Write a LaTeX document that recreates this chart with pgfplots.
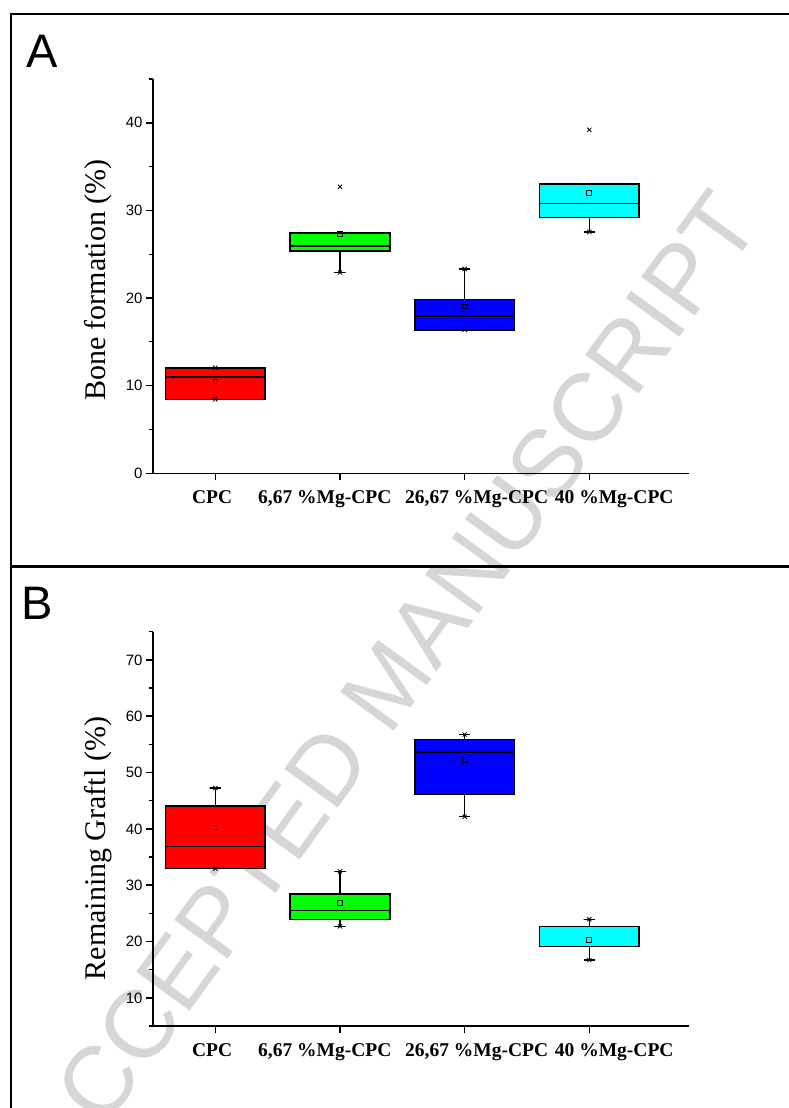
\documentclass[border=0pt]{standalone}
\usepackage{fontspec}
\setmainfont{Liberation Serif}
\newfontfamily\arial{Liberation Sans}
\usepackage{pgfplots}
\pgfplotsset{compat=1.18}

\definecolor{bred}{RGB}{255,0,0}
\definecolor{bgreen}{RGB}{0,255,0}
\definecolor{bblue}{RGB}{0,0,255}
\definecolor{bcyan}{RGB}{0,255,255}

\pgfplotsset{
  panel/.style={
    scale only axis, width=536pt, height=394.3pt,
    xmin=0.5, xmax=4.8,
    clip=false,
    axis x line*=bottom, axis y line*=left,
    axis line style={line width=1.5pt},
    tick align=outside,
    major tick style={line width=1.5pt, black},
    minor tick style={line width=1.2pt, black},
    major tick length=7pt, minor tick length=4pt,
    xtick={1,2,3,4}, xticklabels={},
    extra x ticks={0.974,1.878,3.097,4.2},
    extra x tick labels={CPC,{6,67\hspace{0.25em}\%Mg-CPC},{26,67\hspace{0.25em}\%Mg-CPC},{40\hspace{0.25em}\%Mg-CPC}},
    extra x tick style={major tick style={draw=none}},
    xticklabel style={font=\fontsize{19.5}{22}\selectfont\bfseries, yshift=-7pt},
    yticklabel style={font=\arial\fontsize{15}{18}\selectfont},
    /pgf/number format/assume math mode=true,
    ylabel style={font=\fontsize{30}{34}\selectfont, at={(axis description cs:-0.0877,0.49)}, anchor=base},
  },
  bx/.style={line width=1.5pt, draw=black, solid, mark=none, line join=miter},
  wh/.style={line width=1.5pt, black, solid, mark=none},
  xm/.style={only marks, mark=x, mark size=3pt, line width=0.8pt, black},
  mn/.style={only marks, mark=square, mark size=2.4pt, line width=0.8pt, black},
}

\begin{document}
\begin{tikzpicture}
\useasboundingbox (0,0) rectangle (789pt,-1108pt);
\fill[white] (0,0) rectangle (789pt,-1108pt);
% watermark
\node[rotate=54, text=black!16, font=\arial\fontsize{96}{100}\selectfont] at (388pt,-683pt) {ACCEPTED MANUSCRIPT};

% ---------------- Panel A
\begin{axis}[panel, at={(153pt,-473.3pt)}, anchor=south west,
  ymin=0, ymax=45, ytick={0,10,20,30,40}, minor ytick={5,15,25,35,45},
  ylabel={Bone formation (\%)}]
% whiskers with caps
\addplot[wh] coordinates {(0.955,8.44) (1.045,8.44) (1,8.44) (1,12.04) (0.955,12.04) (1.045,12.04)};
\addplot[wh] coordinates {(1.955,22.9) (2.045,22.9) (2,22.9) (2,27.4) (1.955,27.4) (2.045,27.4)};
\addplot[wh] coordinates {(2.955,16.38) (3.045,16.38) (3,16.38) (3,23.33) (2.955,23.33) (3.045,23.33)};
\addplot[wh] coordinates {(3.955,27.55) (4.045,27.55) (4,27.55) (4,33.02) (3.955,33.02) (4.045,33.02)};
% boxes (lower quartile, upper quartile)
\addplot[bx, fill=bred]   coordinates {(0.6,8.44) (1.4,8.44) (1.4,12.04) (0.6,12.04)} --cycle;
\addplot[bx, fill=bgreen] coordinates {(1.6,25.35) (2.4,25.35) (2.4,27.4) (1.6,27.4)} --cycle;
\addplot[bx, fill=bblue]  coordinates {(2.6,16.38) (3.4,16.38) (3.4,19.84) (2.6,19.84)} --cycle;
\addplot[bx, fill=bcyan]  coordinates {(3.6,29.19) (4.4,29.19) (4.4,33.02) (3.6,33.02)} --cycle;
% medians
\addplot[bx] coordinates {(0.6,11.0) (1.4,11.0)};
\addplot[bx] coordinates {(1.6,25.95) (2.4,25.95)};
\addplot[bx] coordinates {(2.6,17.94) (3.4,17.94)};
\addplot[bx] coordinates {(3.6,30.79) (4.4,30.79)};
% min / max and means
\addplot[xm] coordinates {(1,8.44) (1,12.04) (2,22.9) (2,32.7) (3,16.38) (3,23.33) (4,27.55) (4,39.2)};
\addplot[mn] coordinates {(1,10.5) (2,27.3) (3,19.04) (4,31.96)};
\end{axis}

% ---------------- Panel B
\begin{axis}[panel, at={(153pt,-1026pt)}, anchor=south west,
  ymin=5, ymax=75, ytick={10,20,30,40,50,60,70}, minor ytick={5,15,25,35,45,55,65,75},
  ylabel={Remaining Graftl (\%)},
  ylabel style={at={(axis description cs:-0.0877,0.45)}}]
\addplot[wh] coordinates {(0.955,32.94) (1.045,32.94) (1,32.94) (1,47.24) (0.955,47.24) (1.045,47.24)};
\addplot[wh] coordinates {(1.955,22.7) (2.045,22.7) (2,22.7) (2,32.46) (1.955,32.46) (2.045,32.46)};
\addplot[wh] coordinates {(2.955,42.16) (3.045,42.16) (3,42.16) (3,56.76) (2.955,56.76) (3.045,56.76)};
\addplot[wh] coordinates {(3.955,16.7) (4.045,16.7) (4,16.7) (4,23.95) (3.955,23.95) (4.045,23.95)};
\addplot[bx, fill=bred]   coordinates {(0.6,32.94) (1.4,32.94) (1.4,44.1) (0.6,44.1)} --cycle;
\addplot[bx, fill=bgreen] coordinates {(1.6,23.9) (2.4,23.9) (2.4,28.4) (1.6,28.4)} --cycle;
\addplot[bx, fill=bblue]  coordinates {(2.6,46.06) (3.4,46.06) (3.4,55.87) (2.6,55.87)} --cycle;
\addplot[bx, fill=bcyan]  coordinates {(3.6,19.1) (4.4,19.1) (4.4,22.7) (3.6,22.7)} --cycle;
\addplot[bx] coordinates {(0.6,36.84) (1.4,36.84)};
\addplot[bx] coordinates {(1.6,25.55) (2.4,25.55)};
\addplot[bx] coordinates {(2.6,53.62) (3.4,53.62)};
\addplot[bx] coordinates {(3.6,19.1) (4.4,19.1)};
\addplot[xm] coordinates {(1,32.94) (1,47.24) (2,22.7) (2,32.46) (3,42.16) (3,56.76) (4,16.7) (4,23.95)};
\addplot[mn] coordinates {(1,40.27) (2,26.85) (3,52.2) (4,20.35)};
\end{axis}

% frames and panel letters
\draw[line width=2.5pt] (789pt,-14pt) -- (11pt,-14pt) -- (11pt,-1108pt);
\draw[line width=2.5pt] (11pt,-566.5pt) -- (789pt,-566.5pt);
\node[anchor=base west, inner sep=0pt, font=\arial\fontsize{47}{50}\selectfont] at (26pt,-67pt) {A};
\node[anchor=base west, inner sep=0pt, font=\arial\fontsize{47}{50}\selectfont] at (21pt,-619pt) {B};
\end{tikzpicture}
\end{document}
